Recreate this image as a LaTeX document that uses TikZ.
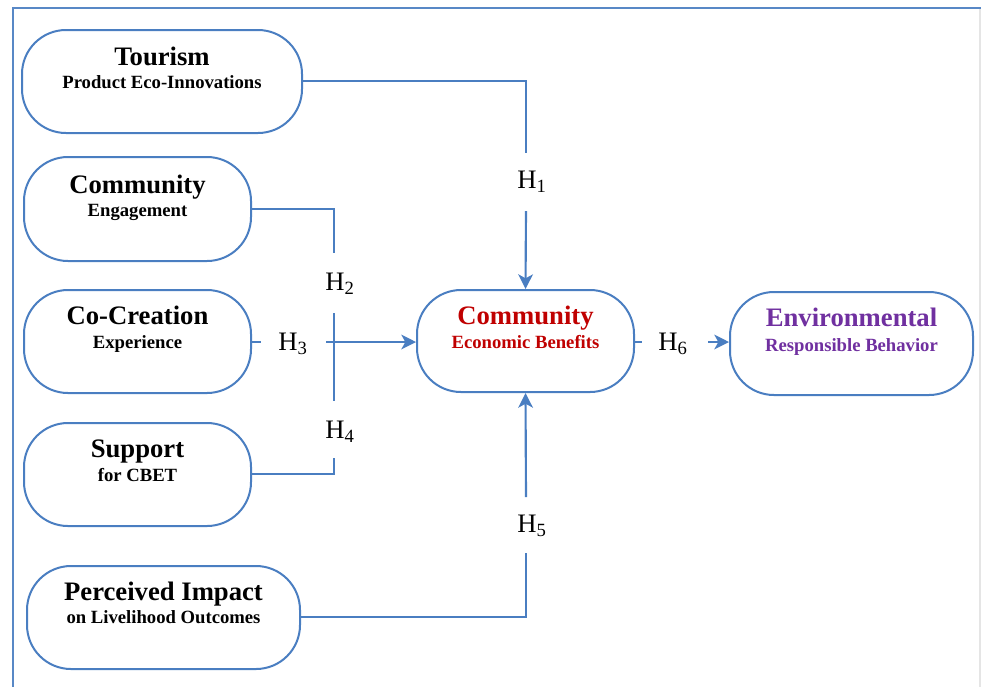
\documentclass[tikz,border=0pt]{standalone}
\usepackage{fontspec}
\setmainfont{Liberation Serif}
\usetikzlibrary{arrows.meta,calc}
\definecolor{lineblue}{RGB}{74,126,193}
\definecolor{frameblue}{RGB}{88,136,198}
\definecolor{cebred}{RGB}{192,0,0}
\definecolor{envpurple}{RGB}{112,48,160}
\tikzset{
  box/.style={draw=lineblue, line width=1.5pt, rounded corners=33pt, fill=white, inner sep=0pt},
  ttl/.style={font=\fontsize{20}{22}\selectfont\bfseries, anchor=base, inner sep=0pt},
  sub/.style={font=\fontsize{14}{16}\selectfont\bfseries, anchor=base, inner sep=0pt},
  hyp/.style={font=\fontsize{20}{22}\selectfont, inner sep=0pt},
  conn/.style={draw=lineblue, line width=1.6pt},
  arr/.style={conn, -{Stealth[length=11pt,width=11pt,inset=3pt]}}
}
\begin{document}
\begin{tikzpicture}[x=0.75pt,y=-0.75pt]
\useasboundingbox (0,0) rectangle (981,687);
% frame
\draw[frameblue, line width=1.8pt] (981,8) -- (13,8) -- (13,687);
\draw[black!10, line width=0.8pt] (980,9) -- (980,687);

% boxes
\node[box, minimum width=280*0.75pt, minimum height=103*0.75pt] (tour) at (162,81.5) {};
\node[box, minimum width=227*0.75pt, minimum height=104*0.75pt] (ce) at (137.5,209) {};
\node[box, minimum width=227*0.75pt, minimum height=103*0.75pt] (cc) at (137.5,341.5) {};
\node[box, minimum width=227*0.75pt, minimum height=103*0.75pt] (sup) at (137.5,474.5) {};
\node[box, minimum width=273*0.75pt, minimum height=103*0.75pt] (pi) at (163.5,617.5) {};
\node[box, minimum width=217*0.75pt, minimum height=102*0.75pt] (ceb) at (525.5,341) {};
\node[box, minimum width=243*0.75pt, minimum height=103*0.75pt] (env) at (851.5,343.5) {};

% texts
\node[ttl] (tourT) at ($(tour.center)+(0,-16)$) {Tourism};
\node[sub] (tourS) at ($(tour.center)+(0,6.5)$) {Product Eco-Innovations};
\node[ttl] (ceT) at ($(ce.center)+(0,-16)$) {Community};
\node[sub] (ceS) at ($(ce.center)+(0,7.5)$) {Engagement};
\node[ttl] (ccT) at ($(cc.center)+(0,-17)$) {Co-Creation};
\node[sub] (ccS) at ($(cc.center)+(0,7)$) {Experience};
\node[ttl] (supT) at ($(sup.center)+(0,-17)$) {Support};
\node[sub] (supS) at ($(sup.center)+(0,6.5)$) {for CBET};
\node[ttl] (piT) at ($(pi.center)+(0,-17)$) {Perceived Impact};
\node[sub] (piS) at ($(pi.center)+(0,6)$) {on Livelihood Outcomes};
\node[ttl, text=cebred] (cebT) at ($(ceb.center)+(0,-17)$) {Community};
\node[sub, text=cebred] (cebS) at ($(ceb.center)+(0,7)$) {Economic Benefits};
\node[ttl, text=envpurple] (envT) at ($(env.center)+(0,-17)$) {Environmental};
\node[sub, text=envpurple] (envS) at ($(env.center)+(0,7.5)$) {Responsible Behavior};

% hypothesis labels
\node[hyp] (h1) at (532,182) {H\textsubscript{1}};
\node[hyp] (h2) at (340,284) {H\textsubscript{2}};
\node[hyp] (h3) at (293,344) {H\textsubscript{3}};
\node[hyp] (h4) at (340,432) {H\textsubscript{4}};
\node[hyp] (h5) at (532,526) {H\textsubscript{5}};
\node[hyp] (h6) at (673,344) {H\textsubscript{6}};

% routing coordinates
\coordinate (a1) at (526,153);
\coordinate (b1) at (526,211);
\coordinate (a2) at (334,253);
\coordinate (b2) at (334,313);
\coordinate (c2) at (334,401);
\coordinate (a4) at (334,458);
\coordinate (a3) at (261,342);
\coordinate (b3) at (326,342);
\coordinate (a5) at (526,553);
\coordinate (b5) at (526,497);
\coordinate (a6) at (642,342);
\coordinate (b6) at (708,342);

% connectors
\draw[conn] (tour.east |- 0,81) -| (a1);
\draw[arr] (b1) -- (ceb.north);
\draw[conn] (ce.east |- 0,209) -| (a2);
\draw[conn] (b2) -- (c2);
\draw[conn] (sup.east |- 0,474) -| (a4);
\draw[conn] (cc.east |- 0,342) -- (a3);
\draw[arr] (b3) -- (ceb.west |- 0,342);
\draw[conn] (pi.east |- 0,617) -| (a5);
\draw[arr] (b5) -- (ceb.south);
\draw[conn] (ceb.east |- 0,342) -- (a6);
\draw[arr] (b6) -- (env.west |- 0,342);
\end{tikzpicture}
\end{document}
